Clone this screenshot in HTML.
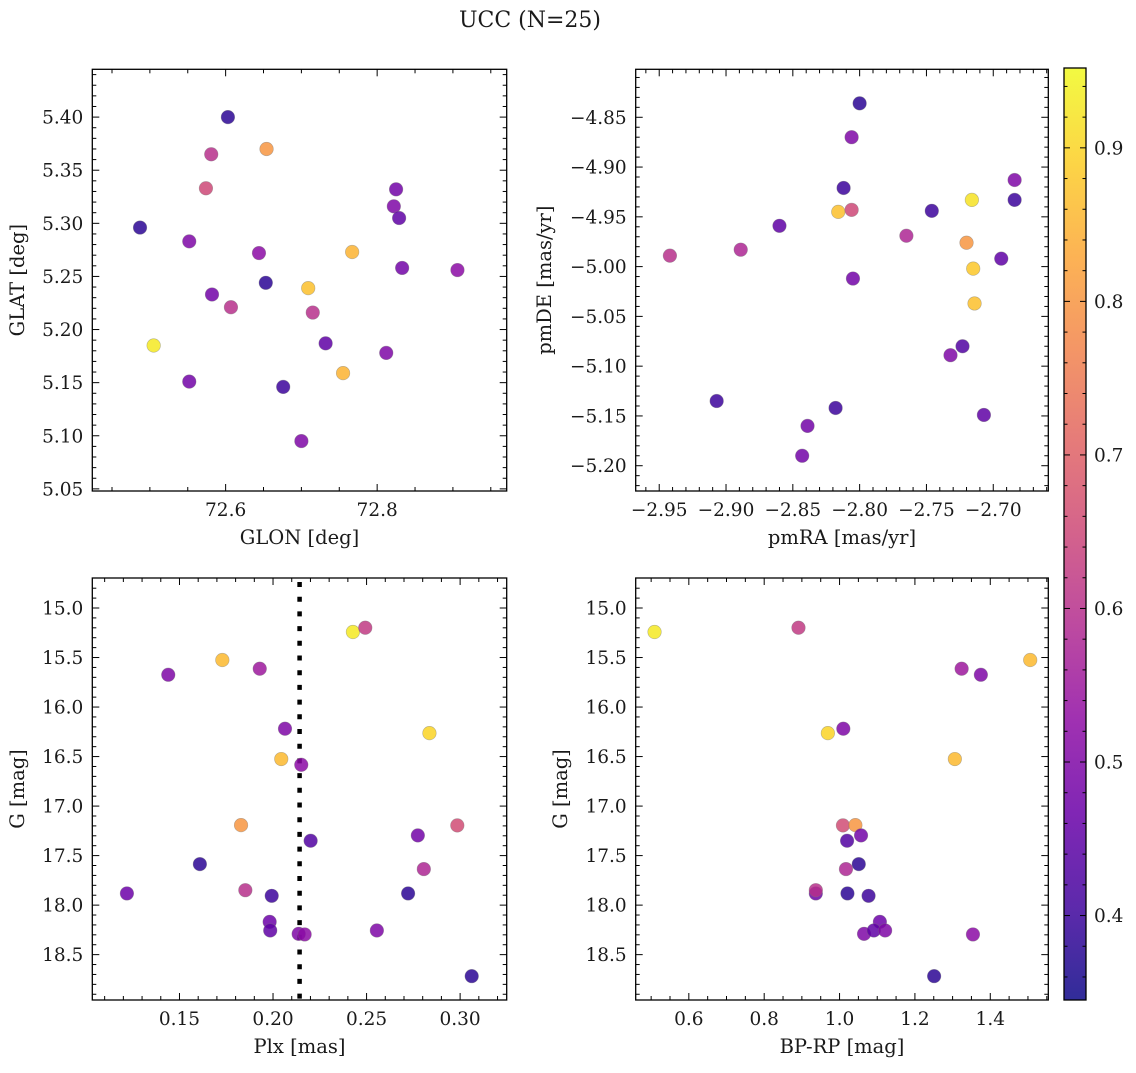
<!DOCTYPE html>
<html><head><meta charset="utf-8">
<style>
html,body{margin:0;padding:0;background:#fff;}
svg text{font-family:"DejaVu Serif","Liberation Serif",serif;fill:#1a1a1a;}
</style></head>
<body>
<svg id="fig" width="1136" height="1068" viewBox="0 0 1136 1068" xmlns="http://www.w3.org/2000/svg">
<defs>
<linearGradient id="plasma" x1="0" y1="1" x2="0" y2="0">
<stop offset="0" stop-color="#0d0887"/><stop offset="0.1" stop-color="#41049d"/><stop offset="0.2" stop-color="#6a00a8"/><stop offset="0.3" stop-color="#8f0da4"/><stop offset="0.4" stop-color="#b12a90"/><stop offset="0.5" stop-color="#cc4778"/><stop offset="0.6" stop-color="#e16462"/><stop offset="0.7" stop-color="#f2844b"/><stop offset="0.8" stop-color="#fca636"/><stop offset="0.9" stop-color="#fcce25"/><stop offset="1" stop-color="#f0f921"/>
</linearGradient>
</defs>
<text x="530" y="27" text-anchor="middle" font-size="22">UCC (N=25)</text>
</svg>
<script>
// ---- data ----
const glon = [72.603,72.581,72.654,72.574,72.825,72.822,72.487,72.829,72.552,72.644,72.767,72.653,72.833,72.906,72.709,72.582,72.607,72.715,72.505,72.732,72.812,72.552,72.755,72.676,72.700];
const glat = [5.400,5.365,5.370,5.333,5.332,5.316,5.296,5.305,5.283,5.272,5.273,5.244,5.258,5.256,5.239,5.233,5.221,5.216,5.185,5.187,5.178,5.151,5.159,5.146,5.095];
const probTL = [0.38,0.60,0.80,0.65,0.48,0.50,0.38,0.45,0.50,0.52,0.85,0.38,0.48,0.52,0.87,0.48,0.60,0.60,0.93,0.45,0.50,0.48,0.85,0.40,0.50];

const pmra = [-2.800,-2.806,-2.684,-2.812,-2.716,-2.684,-2.746,-2.816,-2.806,-2.860,-2.765,-2.720,-2.942,-2.889,-2.715,-2.694,-2.805,-2.714,-2.723,-2.732,-2.907,-2.818,-2.707,-2.839,-2.843];
const pmde = [-4.836,-4.870,-4.913,-4.921,-4.933,-4.933,-4.944,-4.945,-4.943,-4.959,-4.969,-4.976,-4.989,-4.983,-5.002,-4.992,-5.012,-5.037,-5.080,-5.089,-5.135,-5.142,-5.149,-5.160,-5.190];
const probTR = [0.38,0.50,0.50,0.40,0.92,0.40,0.40,0.87,0.65,0.45,0.58,0.80,0.60,0.58,0.88,0.45,0.48,0.87,0.43,0.50,0.40,0.40,0.45,0.48,0.48];

const plx = [0.2427,0.2493,0.1729,0.1440,0.1929,0.2064,0.2836,0.2044,0.2151,0.1829,0.2985,0.2774,0.2201,0.1609,0.2806,0.1219,0.1852,0.1993,0.2722,0.1982,0.1985,0.2137,0.2169,0.2555,0.3062];
const gmagBL = [15.242,15.199,15.525,15.674,15.613,16.219,16.263,16.525,16.583,17.192,17.195,17.296,17.350,17.586,17.636,17.882,17.849,17.906,17.882,18.169,18.256,18.290,18.296,18.256,18.717];
const probBL = [0.93,0.62,0.86,0.50,0.55,0.50,0.90,0.86,0.52,0.80,0.66,0.48,0.43,0.38,0.58,0.47,0.60,0.40,0.38,0.47,0.45,0.50,0.52,0.50,0.38];
const plxMedian = [0.2142];

const bprp = [0.509,0.891,1.506,1.375,1.324,1.010,0.969,1.306,1.354,1.065,1.009,1.042,1.057,1.020,1.051,1.017,0.937,0.937,1.021,1.077,1.107,1.091,1.121,1.251];
const gmagBR = [15.242,15.199,15.525,15.674,15.613,16.219,16.263,16.525,18.296,18.290,17.195,17.192,17.296,17.350,17.586,17.636,17.882,17.849,17.882,17.906,18.169,18.256,18.256,18.717];
const probBR = [0.93,0.62,0.86,0.50,0.55,0.50,0.90,0.86,0.52,0.50,0.66,0.80,0.48,0.43,0.38,0.58,0.47,0.60,0.38,0.40,0.47,0.45,0.50,0.38];

const cbTicks = [0.4,0.5,0.6,0.7,0.8,0.9];

// ---- helpers ----
const NS = "http://www.w3.org/2000/svg";
const svg = document.getElementById('fig');
const TF = 18.5, LF = 19.5;
function mk(tag, attrs, parent){const e=document.createElementNS(NS,tag);for(const k in attrs)e.setAttribute(k,attrs[k]);(parent||svg).appendChild(e);return e;}
const stops=[[0,[13,8,135]],[0.1,[65,4,157]],[0.2,[106,0,168]],[0.3,[143,13,164]],[0.4,[177,42,144]],[0.5,[204,71,120]],[0.6,[225,100,98]],[0.7,[242,132,75]],[0.8,[252,166,54]],[0.9,[252,206,37]],[1,[240,249,33]]];
const CMIN=0.345, CMAX=0.952;
function plasma(v){let t=(v-CMIN)/(CMAX-CMIN);t=Math.max(0,Math.min(1,t));for(let i=1;i<stops.length;i++){if(t<=stops[i][0]){const a=stops[i-1],b=stops[i];const f=(t-a[0])/(b[0]-a[0]);const c=a[1].map((x,j)=>Math.round(x+(b[1][j]-x)*f));return `rgb(${c.join(',')})`;}}return 'rgb(240,249,33)';}
function fmt(v,d){const s=Math.abs(v).toFixed(d);return (v<0?'\u2212':'')+s;}

function panel(o){
  const g=mk('g',{});
  
  
  const sx=v=>o.L+(v-o.x0)/(o.x1-o.x0)*(o.R-o.L);
  const sy=v=>o.B-(v-o.y0)/(o.y1-o.y0)*(o.B-o.T);
  const tg=mk('g',{stroke:'#000','stroke-width':1},g);
  const eps=1e-9;
  function ticksX(){
    const lo=Math.min(o.x0,o.x1),hi=Math.max(o.x0,o.x1);
    for(let v=Math.ceil(lo/o.xmin-eps)*o.xmin;v<=hi+eps;v+=o.xmin){
      const major=Math.abs(v/o.xmaj-Math.round(v/o.xmaj))<1e-6;const len=major?7:4;const x=sx(v);
      if(x<o.L+0.5||x>o.R-0.5)continue;
      mk('line',{x1:x,x2:x,y1:o.B,y2:o.B-len},tg);mk('line',{x1:x,x2:x,y1:o.T,y2:o.T+len},tg);
      if(major){const t=mk('text',{x:x,y:o.B+25,'text-anchor':'middle','font-size':TF,stroke:'none'},g);t.textContent=fmt(v,o.xd);
        
        }
    }
  }
  function ticksY(){
    const lo=Math.min(o.y0,o.y1),hi=Math.max(o.y0,o.y1);
    for(let v=Math.ceil(lo/o.ymin-eps)*o.ymin;v<=hi+eps;v+=o.ymin){
      const major=Math.abs(v/o.ymaj-Math.round(v/o.ymaj))<1e-6;const len=major?7:4;const y=sy(v);
      if(y<o.T+0.5||y>o.B-0.5)continue;
      mk('line',{x1:o.L,x2:o.L+len,y1:y,y2:y},tg);mk('line',{x1:o.R,x2:o.R-len,y1:y,y2:y},tg);
      if(major){const t=mk('text',{x:o.L-9,y:y+6.5,'text-anchor':'end','font-size':TF,stroke:'none'},g);t.textContent=fmt(v,o.yd);
        
        }
    }
  }
  ticksX();ticksY();
  if(o.vline){o.vline.forEach(v=>{const l=mk('line',{x1:sx(v),x2:sx(v),y1:o.T+4,y2:o.B,stroke:'#000','stroke-width':4.5,'stroke-dasharray':'5 9.7'},g);
    
    });}
  const pg=mk('g',{},g);
  
  
  o.xs.forEach((xv,i)=>{
    const c=mk('circle',{cx:sx(xv),cy:sy(o.ys[i]),r:6.8,fill:plasma(o.cs[i]),'fill-opacity':0.85,stroke:'#777','stroke-opacity':0.5,'stroke-width':0.6},pg);
    
    
  });
  const f=mk('rect',{x:o.L,y:o.T,width:o.R-o.L,height:o.B-o.T,fill:'none',stroke:'#000','stroke-width':1.3},g);
  
  
  const xl=mk('text',{x:(o.L+o.R)/2,y:o.B+53,'text-anchor':'middle','font-size':LF},g);xl.textContent=o.xlabel;
  
  
  const cy=(o.T+o.B)/2;
  const yl=mk('text',{x:o.ylx,y:cy,'text-anchor':'middle','font-size':LF,transform:`rotate(-90 ${o.ylx} ${cy})`},g);yl.textContent=o.ylabel;
  
  
}

panel({name:'panel-glon-glat',L:92.3,R:506.7,T:69.3,B:491,x0:72.424,x1:72.971,y0:5.048,y1:5.445,xmaj:0.2,xmin:0.05,ymaj:0.05,ymin:0.01,xd:1,yd:2,xs:glon,ys:glat,cs:probTL,xlabel:'GLON [deg]',ylabel:'GLAT [deg]',ylx:24});
panel({name:'panel-pmra-pmde',L:635.7,R:1048.3,T:69.3,B:491,x0:-2.9676,x1:-2.6588,y0:-5.2254,y1:-4.8018,xmaj:0.05,xmin:0.01,ymaj:0.05,ymin:0.01,xd:2,yd:2,xs:pmra,ys:pmde,cs:probTR,xlabel:'pmRA [mas/yr]',ylabel:'pmDE [mas/yr]',ylx:551});
panel({name:'panel-plx-g',L:92.3,R:506.7,T:578,B:1000,x0:0.1034,x1:0.3249,y0:18.958,y1:14.697,xmaj:0.05,xmin:0.01,ymaj:0.5,ymin:0.1,xd:2,yd:1,xs:plx,ys:gmagBL,cs:probBL,vline:plxMedian,xlabel:'Plx [mas]',ylabel:'G [mag]',ylx:24});
panel({name:'panel-bprp-g',L:635.7,R:1048.3,T:578,B:1000,x0:0.459,x1:1.554,y0:18.958,y1:14.697,xmaj:0.2,xmin:0.05,ymaj:0.5,ymin:0.1,xd:1,yd:1,xs:bprp,ys:gmagBR,cs:probBR,xlabel:'BP-RP [mag]',ylabel:'G [mag]',ylx:567});

(function(){
  const L=1064,R=1086,T=68,B=1000;
  const g=mk('g',{});
  
  
  mk('rect',{x:L,y:T,width:R-L,height:B-T,fill:'url(#plasma)','fill-opacity':0.85},g);
  mk('rect',{x:L,y:T,width:R-L,height:B-T,fill:'none',stroke:'#000','stroke-width':1.3},g);
  const sy=v=>B-(v-CMIN)/(CMAX-CMIN)*(B-T);
  for(let k=Math.ceil(CMIN/0.02);k*0.02<=CMAX;k++){
    const v=k*0.02;const y=sy(v);const major=(k%5===0);const len=major?6:3.5;
    mk('line',{x1:L,x2:L+len,y1:y,y2:y,stroke:'#000','stroke-width':1},g);
    mk('line',{x1:R,x2:R-len,y1:y,y2:y,stroke:'#000','stroke-width':1},g);
  }
  cbTicks.forEach(v=>{
    const t=mk('text',{x:R+8,y:sy(v)+6.5,'font-size':TF},g);t.textContent=v.toFixed(1);
    
    
  });
})();
</script>
</body></html>
